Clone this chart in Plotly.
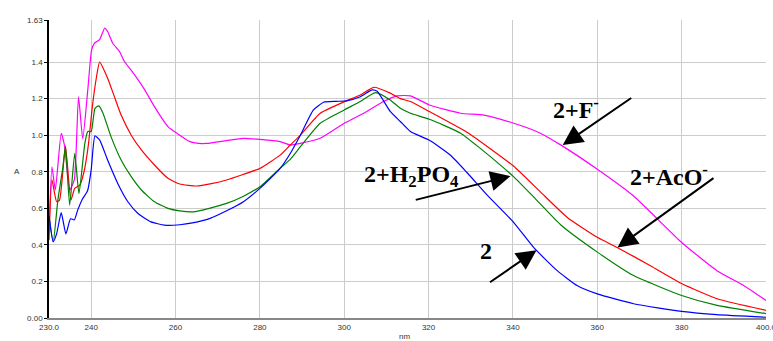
import plotly.graph_objects as go

# ---- data ----
nm_2 = [230, 231.0, 231.8, 232.9, 234.0, 235.1, 236.0, 236.8, 237.9, 238.9, 239.2, 240.0, 240.9, 242.0,
        243.9, 246.3, 248.7, 251.1, 254.2, 257.4, 261, 264, 268.2, 272, 276.1, 280, 284.8, 287.2, 289.6,
        292.7, 295.1, 298, 300.6, 303.8, 306.6, 307.8, 310.9, 313.3, 315.7, 320.2, 325.2, 329.2, 333.9,
        340.2, 344.9, 350.5, 355.2, 360, 368.6, 380, 388.3, 400]
A_2 = [0.56, 0.417, 0.46, 0.576, 0.46, 0.543, 0.537, 0.59, 0.65, 0.685, 0.70, 0.81, 0.996, 0.974,
       0.864, 0.736, 0.636, 0.572, 0.526, 0.508, 0.51, 0.52, 0.545, 0.585, 0.636, 0.709, 0.818, 0.90, 1.0,
       1.138, 1.18, 1.185, 1.188, 1.21, 1.248, 1.24, 1.13, 1.075, 1.02, 0.972, 0.89, 0.793, 0.672,
       0.522, 0.386, 0.259, 0.178, 0.132, 0.078, 0.036, 0.018, 0.004]

nm_aco = [230, 230.7, 231.8, 232.5, 233.9, 235.2, 236.1, 237.3, 238.3, 239.3, 240.3, 241.2, 242.0, 243.9,
          245.5, 247.1, 249.5, 251.9, 255, 258.2, 261, 265, 268.5, 272.1, 276, 280, 284.8, 287.2, 289.6,
          294.3, 300, 303.8, 307, 310.9, 313.3, 315.7, 320.2, 329.2, 334.7, 340.2, 346.5, 352.9, 360.1,
          364.7, 372.6, 380.1, 388.4, 400]
A_aco = [0.426, 0.755, 0.636, 0.645, 0.94, 0.645, 0.709, 0.727, 0.80, 0.94, 1.16, 1.31, 1.40, 1.312,
         1.211, 1.11, 1.0, 0.919, 0.837, 0.764, 0.733, 0.722, 0.735, 0.755, 0.785, 0.818, 0.891, 0.946, 1.0,
         1.12, 1.183, 1.22, 1.262, 1.23, 1.20, 1.184, 1.129, 1.015, 0.925, 0.83, 0.69, 0.55, 0.44,
         0.386, 0.286, 0.187, 0.105, 0.042]

nm_h2po4 = [230, 231.0, 232.1, 233.3, 233.9, 234.9, 236.1, 237.1, 238.5, 239.2, 240.0, 240.9, 241.8, 242.8,
            244.7, 247.1, 249.5, 251.9, 255, 258.2, 261, 264.2, 268, 272.1, 276, 280, 284.8, 287.2, 289.6,
            294.3, 300, 303.8, 307.4, 310.9, 313.3, 315.7, 320.2, 327.6, 332.4, 337.1, 340.2, 345, 351.3,
            360.1, 368.6, 380, 388.4, 400]
A_h2po4 = [0.553, 0.416, 0.645, 0.827, 0.937, 0.617, 0.90, 0.68, 0.955, 1.02, 1.02, 1.147, 1.16, 1.12,
           0.992, 0.864, 0.773, 0.70, 0.636, 0.60, 0.586, 0.581, 0.60, 0.627, 0.665, 0.718, 0.82, 0.868, 0.937,
           1.065, 1.138, 1.184, 1.233, 1.193, 1.147, 1.12, 1.087, 1.011, 0.925, 0.835, 0.772, 0.66, 0.51,
           0.359, 0.232, 0.123, 0.069, 0.024]

nm_f = [230, 230.7, 231.5, 232.9, 233.7, 234.9, 236.0, 237.0, 238.0, 239.2, 240.1, 240.8, 242.0, 243.2,
        243.9, 245.1, 246.7, 247.9, 250.3, 252.7, 255, 258.2, 261, 263.4, 265.5, 267.4, 272, 276.1, 280,
        284.8, 287.2, 289.6, 294.3, 300, 304.6, 309.3, 312.5, 315.7, 320.2, 327.6, 333.1, 340.2, 346.5,
        351.3, 360.1, 368.6, 380, 388.4, 394.7, 400]
A_f = [0.48, 0.827, 0.70, 1.01, 0.94, 0.70, 0.755, 1.21, 0.98, 1.248, 1.467, 1.503, 1.522, 1.586,
       1.567, 1.503, 1.458, 1.403, 1.33, 1.248, 1.156, 1.047, 1.0, 0.965, 0.955, 0.955, 0.97, 0.983, 0.977,
       0.965, 0.946, 0.955, 0.983, 1.065, 1.12, 1.184, 1.215, 1.215, 1.165, 1.12, 1.11, 1.065, 1.011,
       0.947, 0.812, 0.667, 0.413, 0.259, 0.178, 0.096]

x_ticks = [230, 240, 260, 280, 300, 320, 340, 360, 380, 400]
x_ticktext = ["230.0", "240", "260", "280", "300", "320", "340", "360", "380", "400.0"]
y_ticks = [0, 0.2, 0.4, 0.6, 0.8, 1.0, 1.2, 1.4, 1.63]
y_ticktext = ["0.00", "0.2", "0.4", "0.6", "0.8", "1.0", "1.2", "1.4", "1.63"]

series = [
    ("2+F-", nm_f, A_f, "#ff00ff"),
    ("2+AcO-", nm_aco, A_aco, "#ff0000"),
    ("2+H2PO4", nm_h2po4, A_h2po4, "#008000"),
    ("2", nm_2, A_2, "#0000ff"),
]

# label text, text position, arrow tail, arrow head (data coords)
labels = [
    ("<b>2+F<sup>-</sup></b>", (354.9, 1.15), (368.4, 1.209), (351.8, 0.946)),
    ("<b>2+H<sub>2</sub>PO<sub>4</sub></b>", (315.9, 0.776), (316.6, 0.644), (339.4, 0.776)),
    ("<b>2+AcO<sup>-</sup></b>", (376.9, 0.782), (387.9, 0.771), (364.8, 0.386)),
    ("<b>2</b>", (333.5, 0.365), (334.2, 0.19), (345.6, 0.371)),
]

fig = go.Figure()
for name, xs, ys, col in series:
    fig.add_trace(go.Scatter(x=xs, y=ys, mode="lines", name=name,
                             line=dict(color=col, width=1.2, shape="spline", smoothing=0.5)))

for text, tpos, tail, head in labels:
    fig.add_annotation(x=tpos[0], y=tpos[1], xref="x", yref="y", text=text, showarrow=False,
                       font=dict(family="Liberation Serif", size=24, color="black"))
    fig.add_annotation(x=head[0], y=head[1], ax=tail[0], ay=tail[1], xref="x", yref="y",
                       axref="x", ayref="y", text="", showarrow=True, arrowhead=2,
                       arrowsize=2, arrowwidth=2, arrowcolor="black")

fig.add_annotation(x=-0.052, y=0.49, xref="paper", yref="paper", text="A", showarrow=False,
                   font=dict(family="Arial", size=8, color="#333"))
fig.add_annotation(x=0.4965, y=-0.085, xref="paper", yref="paper", text="nm", showarrow=False,
                   font=dict(family="Arial", size=8, color="#333"))

fig.update_layout(
    width=773, height=341,
    margin=dict(l=49, r=7, t=20, b=23, autoexpand=False),
    paper_bgcolor="white", plot_bgcolor="white",
    showlegend=False,
    xaxis=dict(range=[230, 400], tickvals=x_ticks, ticktext=x_ticktext, automargin=False,
               ticklabeloverflow="allow",
               showgrid=True, gridcolor="#cccccc", gridwidth=1,
               showline=True, linecolor="#888888", linewidth=2, zeroline=False,
               ticks="", tickfont=dict(family="Arial", size=8, color="#333")),
    yaxis=dict(range=[0, 1.63], tickvals=y_ticks, ticktext=y_ticktext, automargin=False,
               ticklabeloverflow="allow",
               showgrid=True, gridcolor="#cccccc", gridwidth=1,
               showline=True, linecolor="black", linewidth=1.5, zeroline=False,
               ticks="outside", ticklen=3, tickcolor="black",
               tickfont=dict(family="Arial", size=8, color="#333")),
)

fig.write_html("out.html", config={"displayModeBar": False},
               post_script="document.body.style.margin='0';document.body.style.overflow='hidden';")
